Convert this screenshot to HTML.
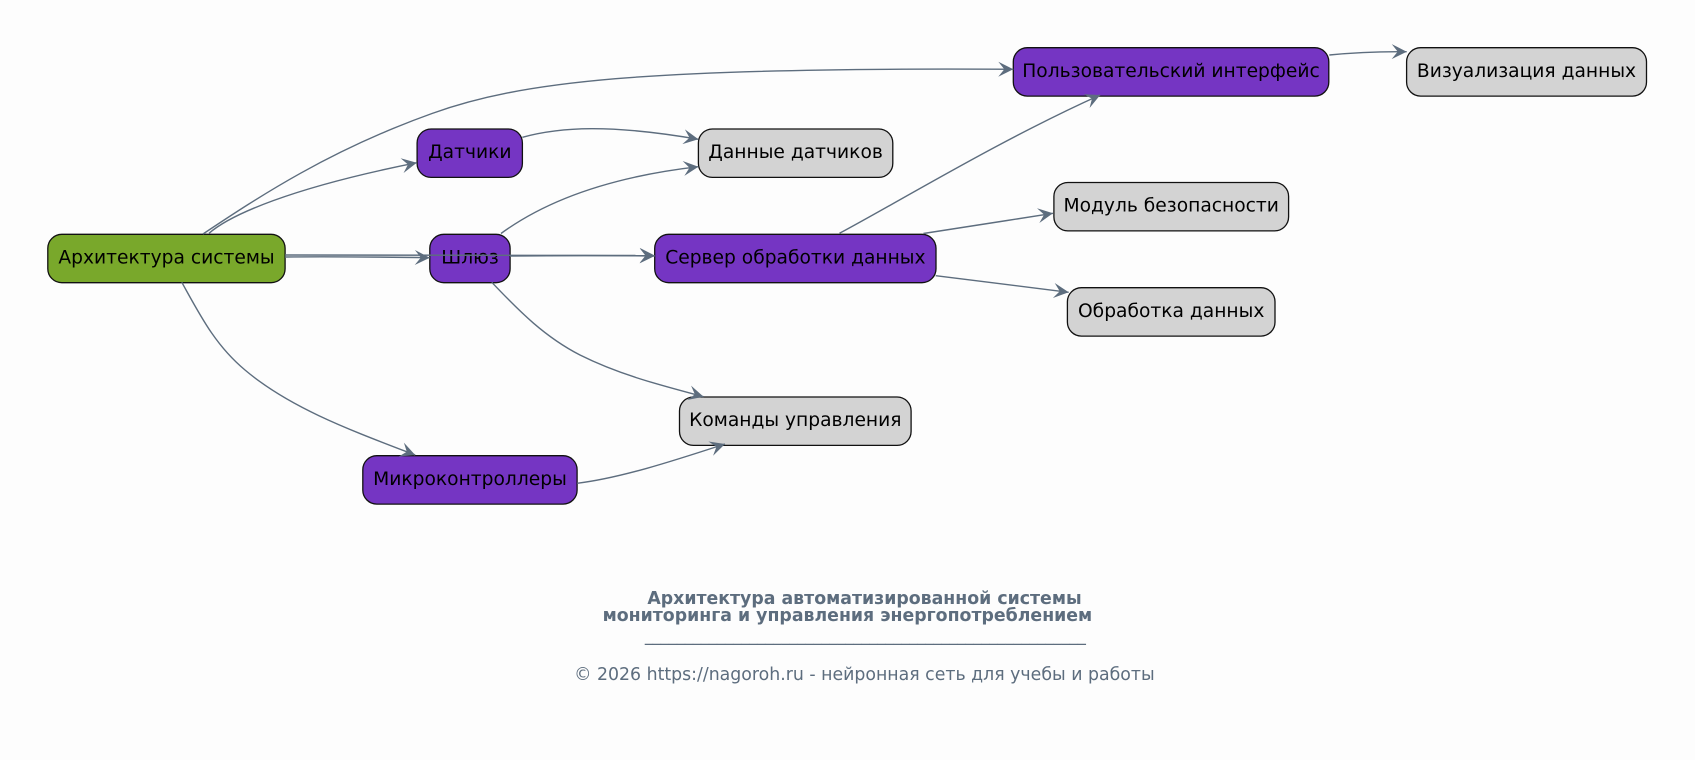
<!DOCTYPE html>
<html><head><meta charset="utf-8"><style>
html,body{margin:0;padding:0;background:#fdfdfd;}
svg{display:block;}
text{font-family:"DejaVu Sans","Liberation Sans",sans-serif;}
</style></head><body>
<svg width="1695" height="760" viewBox="0 0 1695 760" xmlns="http://www.w3.org/2000/svg">
<defs>
<marker id="ah" markerUnits="userSpaceOnUse" markerWidth="16" markerHeight="16" refX="15" refY="7.5" orient="auto" overflow="visible">
<polygon points="0,0 15,7.5 0,15 6,7.5" fill="#5d6d7e"/>
</marker>
</defs>
<rect width="1695" height="760" fill="#fdfdfd"/>
<g stroke="#111" stroke-width="1.3">
<rect x="47.8" y="234.3" width="237.3" height="48.4" rx="14" fill="#79a82b"/>
<rect x="417.1" y="129" width="105.3" height="48.4" rx="14" fill="#7535c3"/>
<rect x="429.8" y="234.3" width="80.3" height="48.4" rx="14" fill="#7535c3"/>
<rect x="362.8" y="455.7" width="214.3" height="48.4" rx="14" fill="#7535c3"/>
<rect x="1013.3" y="47.7" width="315.5" height="48.4" rx="14" fill="#7535c3"/>
<rect x="698.4" y="129" width="194.4" height="48.4" rx="14" fill="#d3d3d3"/>
<rect x="654.7" y="234.3" width="281.3" height="48.4" rx="14" fill="#7535c3"/>
<rect x="679.5" y="397" width="231.6" height="48.4" rx="14" fill="#d3d3d3"/>
<rect x="1406.6" y="47.7" width="239.9" height="48.4" rx="14" fill="#d3d3d3"/>
<rect x="1053.9" y="182.5" width="234.7" height="48.4" rx="14" fill="#d3d3d3"/>
<rect x="1067.4" y="287.7" width="207.6" height="48.4" rx="14" fill="#d3d3d3"/>
</g>
<g font-size="18.67" fill="#000" text-anchor="middle">
<text x="166.5" y="263.5">Архитектура системы</text>
<text x="469.8" y="158.2">Датчики</text>
<text x="470" y="263.5">Шлюз</text>
<text x="470" y="484.9">Микроконтроллеры</text>
<text x="1171" y="76.9">Пользовательский интерфейс</text>
<text x="795.6" y="158.2">Данные датчиков</text>
<text x="795.4" y="263.5">Сервер обработки данных</text>
<text x="795.3" y="426.2">Команды управления</text>
<text x="1526.5" y="76.9">Визуализация данных</text>
<text x="1171.2" y="211.7">Модуль безопасности</text>
<text x="1171.2" y="316.9">Обработка данных</text>
</g>
<g fill="none" stroke="#5d6d7e" stroke-width="1.4" marker-end="url(#ah)">
<path d="M203,234 C260,196 330,150 432,113.5 C520,82 640,67 1013.3,69.3"/>
<path d="M209,233.3 C230,215 290,188 416.8,162.7"/>
<path d="M285,257 C330,256.5 380,257 429.8,257.7"/>
<path d="M285,255 C400,254 520,254.5 654.7,255.5"/>
<path d="M510,256 C560,255.5 610,255.5 654.7,256"/>
<path d="M501,233.5 C540,205 600,178 698.4,166.7"/>
<path d="M522.4,137.3 C560,127 610,124 698.4,139.3"/>
<path d="M839.5,233.3 C900,201 1000,140 1100.2,95"/>
<path d="M923.4,233.5 C960,228 1010,220 1053,213.3"/>
<path d="M935.7,275.7 C980,281 1025,287 1068.7,292.3"/>
<path d="M1329.3,55 C1355,52.5 1380,51.5 1406.7,51.7"/>
<path d="M491.8,282.3 C520,312 545,337 580,355 C620,375 660,385 703.6,396.7"/>
<path d="M181.8,282.3 C200,315 215,345 245,370 C290,408 350,430 415.2,455"/>
<path d="M577.1,483.3 C620,478 670,462 725,444"/>
</g>
<g fill="#5d6d7e" text-anchor="middle" font-size="17.33">
<text x="864.5" y="604" font-weight="bold">Архитектура автоматизированной системы</text>
<text x="847.4" y="621.2" font-weight="bold">мониторинга и управления энергопотреблением</text>
<text x="865.4" y="641" textLength="441" lengthAdjust="spacingAndGlyphs">_______________________________________________________</text>
<text x="864.4" y="680">© 2026 https://nagoroh.ru - нейронная сеть для учебы и работы</text>
</g>
</svg>
</body></html>
